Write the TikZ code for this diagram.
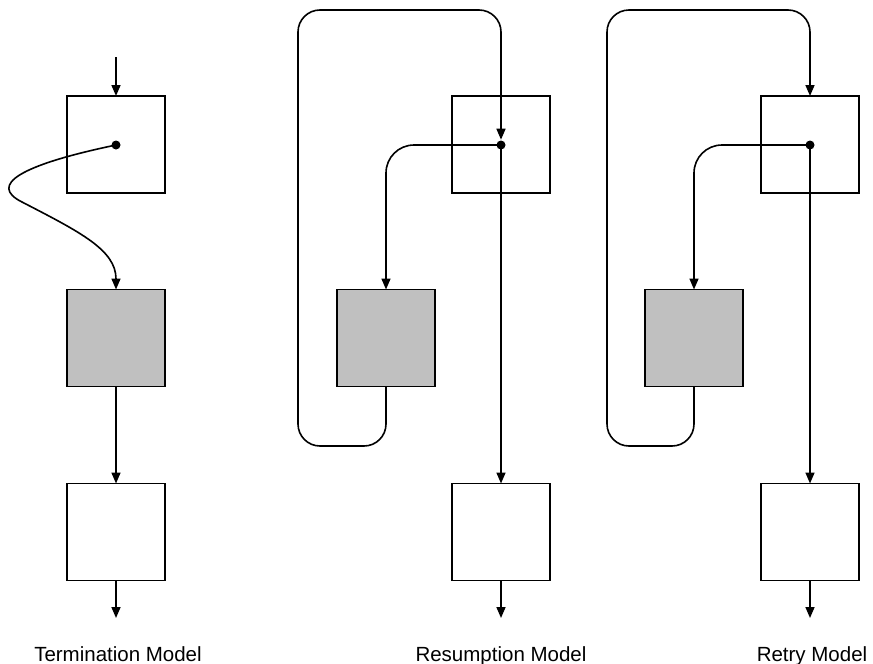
\documentclass[tikz,border=0pt]{standalone}
\usepackage{fontspec}
\setmainfont{Liberation Sans}
\usetikzlibrary{arrows.meta}

\begin{document}
\begin{tikzpicture}[x=1pt,y=-1pt,line width=1.6pt,
  >={Triangle[length=11pt,width=9pt]},
  blk/.style={draw,minimum width=98pt,minimum height=97pt,inner sep=0pt,outer sep=0pt},
  handler/.style={blk,fill=handlergray},
  dot/.style={circle,fill=black,inner sep=0pt,minimum size=9pt},
  caption/.style={anchor=base,font=\fontsize{20.5}{24}\selectfont}]
\definecolor{handlergray}{HTML}{C0C0C0}
\useasboundingbox (0,0) rectangle (873,664);
% termination
\node [blk] (t1) at (116,144.5) {};
\node [handler] (g1) at (116,338) {};
\node [blk] (b1) at (116,532) {};
\node [dot] (d1) at (116,145) {};
\coordinate (in1) at (116,57);
\coordinate (out1) at (116,618);
\draw [->] (in1) -- (t1);
\draw [->] (d1.center) .. controls (20,165) and (-12,185) .. (22,202)
  .. controls (80,232) and (116,250) .. (g1);
\draw [->] (g1) -- (b1);
\draw [->] (b1) -- (out1);
\node [caption] (c1) at (118,661) {Termination Model};
% resumption
\node [blk] (t2) at (501,144.5) {};
\node [handler] (g2) at (386,338) {};
\node [blk] (b2) at (501,532) {};
\node [dot] (d2) at (501,145) {};
\coordinate (out2) at (501,618);
\draw [->,rounded corners=28pt] (d2.center) -- (386,145) -- (g2);
\draw [->,rounded corners=22pt] (g2) -- (386,446) -- (298,446) -- (298,10) -- (501,10) -- (d2);
\draw [->] (d2.center) -- (b2);
\draw [->] (b2) -- (out2);
\node [caption] (c2) at (501,661) {Resumption Model};
% retry
\node [blk] (t3) at (810,144.5) {};
\node [handler] (g3) at (694,338) {};
\node [blk] (b3) at (810,532) {};
\node [dot] (d3) at (810,145) {};
\coordinate (out3) at (810,618);
\draw [->,rounded corners=28pt] (d3.center) -- (694,145) -- (g3);
\draw [->,rounded corners=22pt] (g3) -- (694,446) -- (607,446) -- (607,10) -- (810,10) -- (t3);
\draw [->] (d3.center) -- (b3);
\draw [->] (b3) -- (out3);
\node [caption] (c3) at (812,661) {Retry Model};
\end{tikzpicture}
\end{document}
